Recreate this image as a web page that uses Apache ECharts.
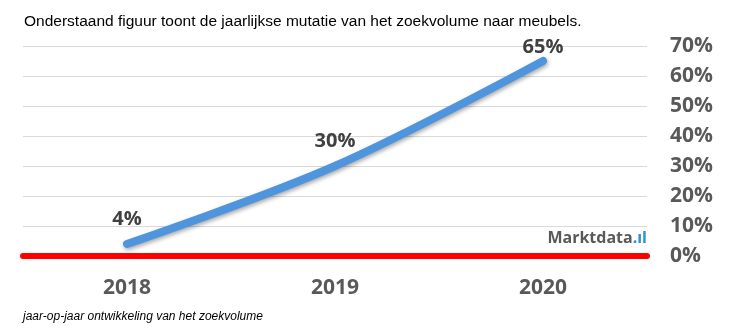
<!DOCTYPE html>
<html>
<head>
<meta charset="utf-8">
<script src="https://cdn.jsdelivr.net/npm/echarts@6/dist/echarts.min.js"></script>
<style>
  html, body { margin: 0; padding: 0; background: #fff; }
  #chart { width: 748px; height: 331px; }
</style>
</head>
<body>
<div id="chart"></div>
<script>
// Yearly change in search volume for furniture
const years = ['2018', '2019', '2020'];
const mutation = [4, 30, 65];
const yTicks = [0, 10, 20, 30, 40, 50, 60, 70];

// The last label sits closer to its point so it stays inside the plot area
const seriesData = mutation.map((v, i) => i === mutation.length - 1
  ? { value: v, label: { distance: 3 } }
  : v);

const chart = echarts.init(document.getElementById('chart'), null, { renderer: 'canvas' });

chart.setOption({
  animation: false,
  backgroundColor: '#ffffff',
  title: [
    {
      text: 'Onderstaand figuur toont de jaarlijkse mutatie van het zoekvolume naar meubels.',
      left: 19, top: 9,
      textStyle: { fontFamily: 'Liberation Sans', fontSize: 15.5, fontWeight: 'normal', color: '#000' }
    },
    {
      text: 'jaar-op-jaar ontwikkeling van het zoekvolume',
      left: 18, top: 306,
      textStyle: { fontFamily: 'Liberation Sans', fontSize: 12, fontStyle: 'italic', fontWeight: 'normal', color: '#000' }
    }
  ],
  grid: { left: 23, right: 101, top: 46, bottom: 75, containLabel: false },
  xAxis: {
    type: 'category',
    data: years,
    boundaryGap: true,
    axisLine: { show: true, lineStyle: { color: '#ff0000', width: 6 } },
    axisTick: { show: false },
    axisLabel: {
      margin: 22,
      fontFamily: 'Open Sans', fontWeight: 'bold', fontSize: 21, color: '#595959'
    }
  },
  yAxis: {
    type: 'value',
    position: 'right',
    min: yTicks[0], max: yTicks[yTicks.length - 1], interval: 10,
    axisLine: { show: false },
    axisTick: { show: false },
    splitLine: { lineStyle: { color: '#d9d9d9', width: 1 } },
    axisLabel: {
      margin: 23,
      align: 'left',
      formatter: v => v + '%',
      fontFamily: 'Open Sans', fontWeight: 'bold', fontSize: 21, color: '#595959'
    }
  },
  series: [{
    type: 'line',
    data: seriesData,
    smooth: 0.35,
    symbol: 'circle',
    symbolSize: 2,
    showSymbol: true,
    itemStyle: { color: 'rgba(0,0,0,0)', borderWidth: 0 },
    lineStyle: {
      color: '#4f95dd', width: 8, cap: 'round',
      shadowColor: 'rgba(0,0,0,0.35)', shadowBlur: 4, shadowOffsetY: 2, shadowOffsetX: 1
    },
    label: {
      show: true,
      position: 'top',
      distance: 14,
      formatter: p => p.value + '%',
      fontFamily: 'Open Sans', fontWeight: 'bold', fontSize: 20, color: '#404040'
    },
    z: 3
  }],
  graphic: [{
    type: 'text',
    right: 101, top: 230,
    style: {
      text: '{a|Marktdata}{b|.}{c|ıl}',
      rich: {
        a: { fontFamily: 'Open Sans', fontWeight: 'bold', fontSize: 16, fill: '#595959' },
        b: { fontFamily: 'Open Sans', fontWeight: 'bold', fontSize: 16, fill: '#2e8fd6' },
        c: { fontFamily: 'Open Sans', fontWeight: 'bold', fontSize: 16, fill: '#2e8fd6' }
      }
    }
  }]
});
</script>
</body>
</html>
